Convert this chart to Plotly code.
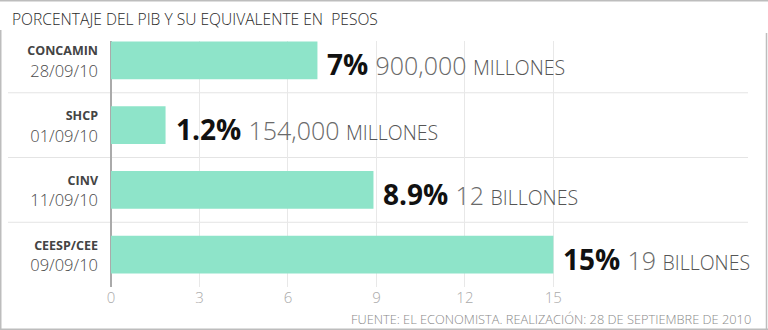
import plotly.graph_objects as go

# ---- data ----
sources = ["CONCAMIN", "SHCP", "CINV", "CEESP/CEE"]
dates = ["28/09/10", "01/09/10", "11/09/10", "09/09/10"]
bar_values = [7, 1.85, 8.9, 15]
pct_labels = ["7%", "1.2%", "8.9%", "15%"]
amounts = ["900,000", "154,000", "12", "19"]
units = ["MILLONES", "MILLONES", "BILLONES", "BILLONES"]
x_ticks = [0, 3, 6, 9, 12, 15]

title_text = "PORCENTAJE DEL PIB Y SU EQUIVALENTE EN  PESOS"
source_text = "FUENTE: EL ECONOMISTA. REALIZACIÓN: 28 DE SEPTIEMBRE DE 2010"

W, H = 768, 330
ML, MR, MT, MB = 111, 20, 41, 43
PW, PH = W - ML - MR, H - MT - MB

def px_x(p):  # pixel -> paper x
    return (p - ML) / PW

def px_y(p):  # pixel -> paper y
    return (H - MB - p) / PH

FONT = "Open Sans"
bar_color = "#8ee4c9"

ylabels = [
    f"<span style='font-size:12.5px;font-weight:bold;color:#444'>{s}</span><br>{d}"
    for s, d in zip(sources, dates)
]
ypos = list(range(len(sources)))

fig = go.Figure(
    go.Bar(
        x=bar_values,
        y=ypos,
        orientation="h",
        width=0.585,
        marker=dict(color=bar_color, line=dict(width=0)),
        hoverinfo="skip",
    )
)

for i, (v, pl, a, u) in enumerate(zip(bar_values, pct_labels, amounts, units)):
    fig.add_annotation(
        x=v, y=i, xref="x", yref="y",
        xanchor="left", yanchor="middle", xshift=8, yshift=-4,
        showarrow=False,
        text=(f"<b>{pl}</b> "
              f"<span style='font-size:25px;color:#6a6a6a;font-weight:300'>{a} </span>"
              f"<span style='font-size:19.5px;color:#555;font-weight:300'>{u}</span>"),
        font=dict(family=FONT, size=28, color="#111"),
    )

# separators between rows
for i in range(len(sources) - 1):
    fig.add_shape(type="line", xref="paper", yref="y",
                  x0=px_x(8), x1=px_x(748), y0=i + 0.5, y1=i + 0.5,
                  line=dict(color="#e4e4e4", width=1), layer="below")

# frame
frame = dict(color="#bdbdbd", width=1.5)
fig.add_shape(type="line", xref="paper", yref="paper", x0=px_x(0), x1=px_x(768),
              y0=px_y(0.75), y1=px_y(0.75), line=frame)
fig.add_shape(type="line", xref="paper", yref="paper", x0=px_x(0), x1=px_x(768),
              y0=px_y(329.25), y1=px_y(329.25), line=frame)
fig.add_shape(type="line", xref="paper", yref="paper", x0=px_x(0.75), x1=px_x(0.75),
              y0=px_y(30), y1=px_y(330), line=frame)
fig.add_shape(type="line", xref="paper", yref="paper", x0=px_x(766.5), x1=px_x(766.5),
              y0=px_y(33), y1=px_y(330), line=frame)

fig.add_annotation(
    x=px_x(753), y=px_y(319), xref="paper", yref="paper",
    xanchor="right", yanchor="middle", showarrow=False,
    text=source_text, font=dict(family=FONT, size=12.8, color="#8a8a8a", weight=300),
)

fig.update_layout(
    width=W, height=H,
    margin=dict(l=ML, r=MR, t=MT, b=MB, autoexpand=False),
    paper_bgcolor="white", plot_bgcolor="white",
    showlegend=False,
    title=dict(text=title_text, xref="container", yref="container",
               x=12 / W, xanchor="left", y=1 - 20 / H, yanchor="middle",
               font=dict(family=FONT, size=15.6, color="#2a2a2a", weight=300)),
    xaxis=dict(range=[0, 21.6], tickvals=x_ticks, ticktext=[str(t) for t in x_ticks],
               showgrid=True, gridcolor="#e8e8e8", gridwidth=1,
               zeroline=True, zerolinecolor="#aaaaaa", zerolinewidth=1.5,
               showline=False, ticks="",
               tickfont=dict(family=FONT, size=15, color="#aaaaaa", weight=300),
               fixedrange=True),
    yaxis=dict(range=[3.5, -0.3], tickvals=ypos, ticktext=ylabels,
               showgrid=False, zeroline=False, showline=False, ticks="",
               ticklabelstandoff=12,
               tickfont=dict(family=FONT, size=16.5, color="#4a4a4a", weight=300),
               fixedrange=True),
)

fig.write_html("out.html")
